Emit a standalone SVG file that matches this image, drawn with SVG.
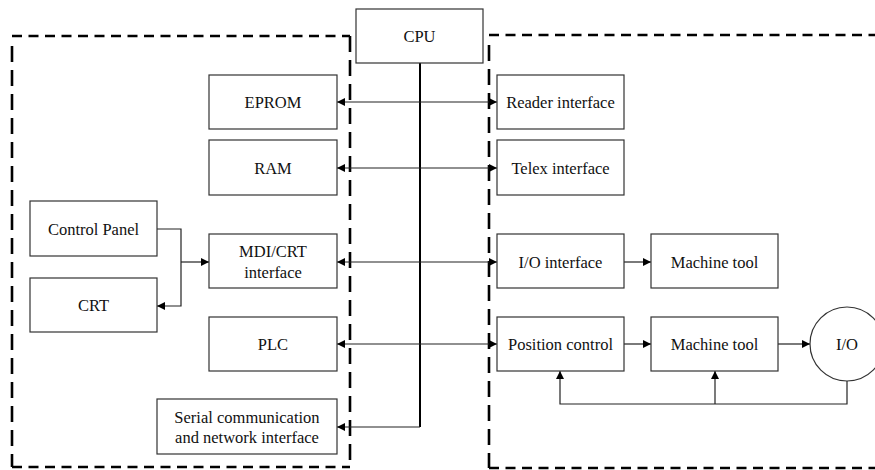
<svg xmlns="http://www.w3.org/2000/svg" width="875" height="470" viewBox="0 0 875 470">
  <defs>
    <marker id="arr" viewBox="0 0 10 10" refX="10" refY="5" markerWidth="8" markerHeight="8" markerUnits="userSpaceOnUse" orient="auto-start-reverse">
      <path d="M0,0 L10,5 L0,10 z" fill="#000"/>
    </marker>
    <style>
      .box { fill: #fff; stroke: #333; stroke-width: 1.2; }
      .lbl { font-size: 16.5px; fill: #111; text-anchor: middle; dominant-baseline: central; }
      .ln { fill: none; stroke: #222; stroke-width: 1.2; }
      .bus { fill: none; stroke: #000; stroke-width: 2; }
      .dh { fill: none; stroke: #000; stroke-width: 2.6; stroke-dasharray: 10 6.5; }
      .dv { fill: none; stroke: #000; stroke-width: 2.6; stroke-dasharray: 16 8; }
    </style>
  </defs>
  <rect width="875" height="470" fill="#fff"/>

  <!-- dashed enclosures -->
  <g id="frames">
    <line class="dh" x1="12" y1="36" x2="350" y2="36"/>
    <line class="dv" x1="12" y1="46" x2="12" y2="467"/>
    <line class="dv" x1="350" y1="36" x2="350" y2="467"/>
    <line class="dh" x1="12" y1="467" x2="350" y2="467"/>
    <line class="dh" x1="489" y1="35" x2="875" y2="35"/>
    <line class="dv" x1="489" y1="45" x2="489" y2="468"/>
    <line class="dh" x1="489" y1="468" x2="875" y2="468"/>
  </g>

  <!-- connectors -->
  <g id="connectors">
    <path class="bus" d="M420,63 V427"/>
    <line class="ln" x1="337" y1="102" x2="497" y2="102" marker-start="url(#arr)" marker-end="url(#arr)"/>
    <line class="ln" x1="337" y1="168" x2="497" y2="168" marker-start="url(#arr)" marker-end="url(#arr)"/>
    <line class="ln" x1="337" y1="262" x2="497" y2="262" marker-start="url(#arr)" marker-end="url(#arr)"/>
    <line class="ln" x1="337" y1="344" x2="497" y2="344" marker-start="url(#arr)" marker-end="url(#arr)"/>
    <path class="ln" d="M420,427 H337" marker-end="url(#arr)"/>
    <path class="ln" d="M157,229 H181 V306 H157" marker-end="url(#arr)"/>
    <path class="ln" d="M181,262 H209" marker-end="url(#arr)"/>
    <path class="ln" d="M624,262 H651" marker-end="url(#arr)"/>
    <path class="ln" d="M624,344 H651" marker-end="url(#arr)"/>
    <path class="ln" d="M778,344 H810" marker-end="url(#arr)"/>
    <path class="ln" d="M847,381 V404 H560 V371" marker-end="url(#arr)"/>
    <path class="ln" d="M715,404 V371" marker-end="url(#arr)"/>
  </g>

  <g id="nodes" font-family="Liberation Serif, Times New Roman, serif">
  <g id="cpu">
    <rect class="box" x="356" y="9" width="127" height="54"/>
    <text class="lbl" x="419.5" y="36">CPU</text>
  </g>
  <g id="eprom">
    <rect class="box" x="209" y="75" width="128" height="54"/>
    <text class="lbl" x="273" y="102">EPROM</text>
  </g>
  <g id="ram">
    <rect class="box" x="209" y="140" width="128" height="55"/>
    <text class="lbl" x="273" y="168">RAM</text>
  </g>
  <g id="control-panel">
    <rect class="box" x="30" y="201" width="127" height="55"/>
    <text class="lbl" x="93.5" y="229">Control Panel</text>
  </g>
  <g id="crt">
    <rect class="box" x="30" y="278" width="127" height="54"/>
    <text class="lbl" x="93.5" y="305">CRT</text>
  </g>
  <g id="mdi-crt">
    <rect class="box" x="209" y="234" width="128" height="54"/>
    <text class="lbl" x="273" y="251">MDI/CRT</text>
    <text class="lbl" x="273" y="272">interface</text>
  </g>
  <g id="plc">
    <rect class="box" x="209" y="317" width="128" height="54"/>
    <text class="lbl" x="273" y="344">PLC</text>
  </g>
  <g id="serial">
    <rect class="box" x="157" y="399" width="180" height="55"/>
    <text class="lbl" x="247" y="417">Serial communication</text>
    <text class="lbl" x="247" y="437">and network interface</text>
  </g>
  <g id="reader">
    <rect class="box" x="497" y="75" width="127" height="54"/>
    <text class="lbl" x="560.5" y="102">Reader interface</text>
  </g>
  <g id="telex">
    <rect class="box" x="497" y="140" width="127" height="55"/>
    <text class="lbl" x="560.5" y="168">Telex interface</text>
  </g>
  <g id="io-interface">
    <rect class="box" x="497" y="234" width="127" height="54"/>
    <text class="lbl" x="560.5" y="262">I/O interface</text>
  </g>
  <g id="machine-tool-1">
    <rect class="box" x="651" y="234" width="127" height="54"/>
    <text class="lbl" x="714.5" y="262">Machine tool</text>
  </g>
  <g id="position-control">
    <rect class="box" x="497" y="317" width="127" height="54"/>
    <text class="lbl" x="560.5" y="344">Position control</text>
  </g>
  <g id="machine-tool-2">
    <rect class="box" x="651" y="317" width="127" height="54"/>
    <text class="lbl" x="714.5" y="344">Machine tool</text>
  </g>
  <g id="io">
    <circle class="box" cx="847" cy="344" r="37"/>
    <text class="lbl" x="847" y="344">I/O</text>
  </g>
  </g>
</svg>
